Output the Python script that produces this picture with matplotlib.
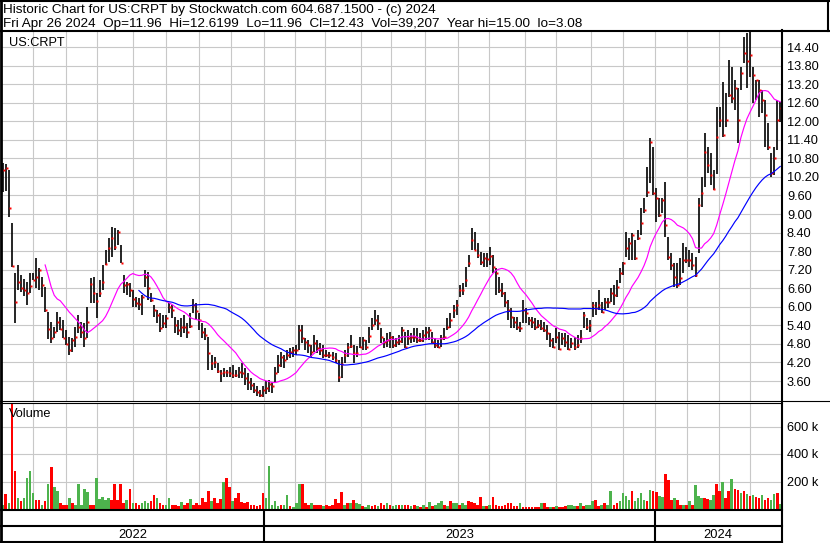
import numpy as np
import pandas as pd
import matplotlib
matplotlib.use("Agg")
import matplotlib.pyplot as plt

plt.rcParams['font.family'] = ['Liberation Sans', 'DejaVu Sans']

# ---------------- data (one bar = two trading days) -------------
highs = [10.65,10.62,10.42,8.71,7.09,7.35,7.03,6.90,6.80,7.09,
         7.10,7.58,7.25,6.96,6.64,5.83,5.51,5.35,5.83,5.67,
         5.57,5.25,5.02,4.99,5.35,5.74,5.51,5.48,6.00,6.93,
         6.96,6.45,6.87,7.35,7.84,8.22,8.58,8.55,8.48,8.00,
         7.03,6.80,6.77,6.54,6.32,6.28,6.38,7.19,7.12,6.45,
         6.06,5.90,5.80,5.74,5.74,6.12,6.06,5.67,5.57,5.64,
         5.74,5.48,5.80,6.25,6.12,5.80,5.48,5.31,5.02,4.44,
         4.38,4.18,3.96,4.02,3.96,4.05,4.12,3.96,4.05,4.18,
         4.02,3.86,3.70,3.54,3.44,3.31,3.44,3.60,3.63,3.57,
         4.05,4.44,4.54,4.44,4.60,4.67,4.70,4.77,5.41,5.41,
         4.99,4.93,4.77,5.09,4.93,4.83,4.77,4.60,4.54,4.54,
         4.51,4.28,4.38,4.60,4.83,5.09,4.77,4.73,5.02,5.02,
         4.93,5.35,5.64,5.90,5.74,5.31,4.99,5.15,5.18,5.06,
         4.99,5.09,5.35,5.18,5.25,5.15,5.31,5.31,5.15,5.25,
         5.35,5.35,5.18,4.99,4.93,5.09,5.31,5.64,5.80,6.06,
         6.22,6.70,6.77,7.29,7.67,8.55,8.42,8.06,7.77,7.74,
         7.74,7.93,7.68,7.26,6.96,6.77,6.48,6.22,5.96,5.67,
         5.67,5.51,6.22,5.96,5.67,5.67,5.64,5.57,5.57,5.51,
         5.41,5.15,4.99,5.31,5.18,5.15,5.15,5.09,4.99,5.02,
         5.09,5.25,5.83,5.64,5.57,6.16,6.16,6.54,6.16,6.28,
         6.28,6.61,6.70,6.87,7.26,7.45,8.42,8.22,8.39,8.16,
         8.48,9.19,9.52,10.52,11.46,11.17,9.84,9.52,9.52,10.04,
         8.26,7.74,7.42,7.42,7.58,8.06,7.93,7.84,7.74,7.61,
         9.52,10.20,11.62,11.17,10.97,10.42,12.46,12.46,13.27,12.91,
         13.98,13.75,13.33,13.07,13.75,14.72,14.85,14.95,13.75,13.33,
         13.33,13.01,12.69,11.94,10.97,11.17,12.69,12.62]
lows = [9.70,9.75,8.90,7.29,5.48,6.54,6.48,6.35,6.06,6.45,
        6.87,6.61,6.54,6.32,5.83,4.95,4.83,4.99,5.18,5.25,
        4.99,4.77,4.44,4.54,4.70,5.15,4.99,4.70,5.00,6.12,
        6.12,5.64,6.32,6.54,7.35,7.45,7.61,7.84,8.00,7.42,
        6.45,6.38,6.32,6.00,6.00,5.90,5.74,6.64,6.22,6.16,
        5.67,5.48,5.18,5.31,5.31,5.80,5.64,5.15,5.09,5.02,
        5.15,4.99,5.31,5.80,5.57,5.25,4.99,4.93,3.96,3.96,
        4.02,3.86,3.57,3.73,3.73,3.73,3.70,3.73,3.70,3.70,
        3.47,3.31,3.31,3.21,3.12,3.08,3.08,3.18,3.25,3.21,
        3.57,3.86,4.05,4.02,4.28,4.35,4.38,4.44,4.60,4.83,
        4.60,4.51,4.38,4.54,4.51,4.44,4.35,4.38,4.35,4.28,
        4.18,3.57,3.70,4.18,4.38,4.67,4.18,4.38,4.67,4.60,
        4.60,4.83,5.25,5.41,5.25,4.83,4.67,4.70,4.67,4.67,
        4.70,4.77,4.83,4.67,4.77,4.83,4.86,4.83,4.86,4.86,
        4.93,4.93,4.83,4.67,4.67,4.70,4.93,5.25,5.31,5.64,
        5.74,6.32,6.38,6.64,7.29,7.84,7.84,7.58,7.35,7.29,
        7.29,7.35,7.09,6.38,6.45,6.32,5.99,5.57,5.31,5.31,
        5.25,5.18,5.48,5.48,5.41,5.31,5.25,5.31,5.25,5.18,
        4.93,4.70,4.67,4.83,4.60,4.77,4.70,4.60,4.67,4.60,
        4.67,4.83,5.31,5.25,5.18,5.67,5.74,5.90,5.80,5.90,
        5.96,6.16,6.06,6.32,6.77,7.03,7.61,7.51,7.51,7.51,
        8.16,8.32,9.03,9.55,10.00,9.61,8.74,8.90,9.03,8.26,
        7.51,7.19,6.64,6.61,6.71,7.09,7.42,7.29,7.19,6.96,
        7.74,9.23,9.87,10.33,9.94,9.78,10.30,11.81,11.49,11.81,
        12.78,12.59,12.36,11.30,13.01,13.88,13.07,13.43,12.59,12.69,
        12.14,12.27,11.17,11.07,10.20,10.26,11.07,11.96]
closes = [10.42,10.50,9.20,7.32,6.16,6.80,6.60,6.54,6.45,6.67,
          6.87,6.96,7.20,6.70,5.90,5.28,4.99,5.18,5.51,5.28,
          4.99,4.80,4.60,4.93,5.02,5.35,5.18,4.99,5.50,6.74,
          6.45,6.19,6.45,6.80,7.38,7.90,8.22,7.93,8.42,7.42,
          6.70,6.74,6.55,6.25,6.12,6.09,6.32,6.96,6.61,6.22,
          5.90,5.74,5.31,5.48,5.64,5.99,5.90,5.41,5.25,5.35,
          5.35,5.18,5.38,6.06,5.86,5.57,5.18,5.09,4.51,4.18,
          4.22,3.92,3.86,3.89,3.89,3.86,3.80,3.80,3.89,3.86,
          3.70,3.57,3.47,3.31,3.25,3.15,3.31,3.38,3.50,3.44,
          3.86,4.12,4.38,4.28,4.44,4.54,4.60,4.60,5.25,4.99,
          4.86,4.77,4.54,4.83,4.67,4.60,4.44,4.44,4.44,4.38,
          4.28,3.73,4.15,4.44,4.70,4.73,4.51,4.51,4.70,4.93,
          4.70,5.06,5.41,5.57,5.48,5.02,4.86,4.93,5.02,4.77,
          4.86,4.89,5.25,4.70,4.99,5.02,5.02,4.93,4.93,5.09,
          5.18,5.25,4.86,4.77,4.70,4.99,5.02,5.35,5.57,5.90,
          6.06,6.54,6.54,6.87,7.42,8.16,7.84,7.68,7.45,7.58,
          7.55,7.64,7.29,7.09,6.54,6.45,6.16,5.90,5.67,5.51,
          5.35,5.31,5.90,5.80,5.57,5.51,5.35,5.41,5.31,5.25,
          5.15,4.93,4.70,5.02,4.64,4.99,4.86,4.64,4.83,4.70,
          4.77,4.99,5.74,5.35,5.41,6.06,5.96,6.06,5.83,6.16,
          6.16,6.45,6.38,6.64,7.09,7.42,7.90,8.06,8.32,7.58,
          8.22,8.71,9.13,9.71,11.33,9.68,9.52,8.97,9.45,8.65,
          7.61,7.35,6.96,6.71,6.93,7.51,7.51,7.51,7.35,7.03,
          9.30,9.68,11.01,10.59,10.26,9.81,11.49,12.04,11.55,12.04,
          12.85,12.75,13.07,12.04,13.56,14.21,13.95,14.14,13.49,13.33,
          13.01,12.69,12.20,11.17,10.33,10.81,12.04,12.43]
volumes_k = [31,108,44,808,275,82,56,82,223,280,
             120,69,69,31,56,185,308,159,133,44,
             31,31,82,44,31,185,31,146,126,31,
             31,228,74,90,69,82,69,185,64,185,
             44,69,146,44,44,31,44,56,44,56,
             100,82,44,31,31,82,31,31,23,49,
             31,44,74,31,44,31,82,49,133,56,
             82,44,74,197,223,159,56,82,115,49,
             44,49,31,31,23,31,120,82,313,31,
             56,23,31,31,100,23,18,44,185,185,
             44,31,44,31,31,31,23,31,23,31,
             74,44,126,31,44,44,69,44,39,23,
             18,31,23,31,23,44,31,44,31,23,
             31,31,31,31,31,23,31,23,18,31,
             18,49,23,31,44,56,31,23,56,44,
             44,31,44,31,56,49,44,31,90,23,
             23,31,90,31,23,23,31,44,44,23,
             23,44,18,13,13,13,13,13,44,44,
             18,18,18,23,18,18,23,31,31,23,
             23,44,23,31,31,56,69,23,31,44,
             31,133,31,44,56,120,95,69,133,56,
             82,120,69,56,138,133,126,95,90,254,
             210,69,82,69,31,31,31,56,31,177,
             95,82,82,74,69,100,185,133,197,82,
             133,218,146,141,115,133,108,95,100,90,
             82,100,69,82,69,108,120,39]
# volume direction as shown: g = up day, r = down day
vol_dir = ("grgrrgrggg" "grrgrgrggr" "rrgrgggggr" "rgggggrrrr" "rgrgrrgggr"
           "rgrrggrrrg" "rrgrrrrrrg" "rrrgrrgrrr" "rrrrrrrggg" "ggrggrgggr"
           "rrgrrrgrrr" "rrrgrgrggr" "ggrrgrrgrg" "grgrrgrgrg" "rgrgggrgrg"
           "grggrrrrrg" "rgrrrrrrrr" "rgrrrrrrgr" "rgrgrrrggg" "rgrgggrrgr"
           "ggrrggggrg" "gggrgrrggr" "rrgrrgrgrg" "ggrrggrrgr" "rgrrgrgrgr"
           "rgrrggrg")
exchange_holidays = ["2022-05-30", "2022-06-20", "2022-07-04", "2022-09-05", "2022-11-24",
                     "2022-12-26", "2023-01-02", "2023-01-16", "2023-02-20", "2023-04-07",
                     "2023-05-29", "2023-06-19", "2023-07-04", "2023-09-04", "2023-11-23",
                     "2023-12-25", "2024-01-01", "2024-01-15", "2024-02-19", "2024-03-29"]
last_date = "2024-04-26"
n_days = 499
price_ticks = [3.60, 4.20, 4.80, 5.40, 6.00, 6.60, 7.20, 7.80, 8.40, 9.00, 9.60,
               10.20, 10.80, 11.40, 12.00, 12.60, 13.20, 13.80, 14.40]
vol_ticks_k = [200, 400, 600]
header1 = "Historic Chart for US:CRPT by Stockwatch.com 604.687.1500 - (c) 2024"
header2 = ("Fri Apr 26 2024  Op=11.96  Hi=12.6199  Lo=11.96  Cl=12.43  "
           "Vol=39,207  Year hi=15.00  lo=3.08")
symbol = "US:CRPT"

# ---------------- layout -------------
W, H = 830, 543
fig = plt.figure(figsize=(W / 100, H / 100), dpi=100)
fig.patch.set_facecolor("white")


def px_axes(x0, y0, x1, y1):
    return fig.add_axes([x0 / W, 1 - y1 / H, (x1 - x0) / W, (y1 - y0) / H])


days = pd.bdate_range(end=last_date, periods=n_days, freq="C",
                      holidays=exchange_holidays)
n = len(closes)
bar_x = np.linspace(0, n_days - 1, n)
month_lines = [i - 0.5 for i in range(1, n_days) if days[i].month != days[i - 1].month]
year_lines = [i - 0.5 for i in range(1, n_days) if days[i].year != days[i - 1].year]
xlim = (-0.5, n_days - 0.5)

grid_c = "#c8c8c8"
tick_font = dict(fontsize=9.2)

# price panel
ax = px_axes(2, 31, 781, 401)
ax.set_xlim(*xlim)
ax.set_ylim(14.40 - (401 - 47) / 30.93, 14.40 + (47 - 31) / 30.93)
ax.set_axisbelow(True)
ax.set_xticks(month_lines)
ax.set_yticks(price_ticks)
ax.set_yticklabels([f"{t:.2f}" for t in price_ticks], **tick_font)
ax.yaxis.tick_right()
ax.tick_params(axis="y", length=0, pad=4.3)
ax.tick_params(axis="x", length=0, labelbottom=False)
ax.grid(True, color=grid_c, lw=0.8)
for s in ax.spines.values():
    s.set_visible(False)

ax.vlines(bar_x, lows, highs, color="black", lw=1.2, zorder=3)
ax.plot(bar_x + 0.5, closes, "s", color="red", ms=2.0, mec="none", zorder=4)
cs = pd.Series(closes)
ax.plot(bar_x, cs.rolling(15).mean(), color="#ff00ff", lw=0.85, zorder=5)
ax.plot(bar_x, cs.rolling(46).mean(), color="#0000ff", lw=0.85, zorder=5)

# volume panel
axv = px_axes(2, 403, 781, 509)
axv.set_xlim(*xlim)
axv.set_ylim(0, (509 - 403) / 27.5 * 200)
axv.set_axisbelow(True)
axv.set_xticks(month_lines)
axv.set_yticks(vol_ticks_k)
axv.set_yticklabels([f"{v} k" for v in vol_ticks_k], **tick_font)
axv.yaxis.tick_right()
axv.tick_params(axis="y", length=0, pad=4.3)
axv.tick_params(axis="x", length=0, labelbottom=False)
axv.grid(True, color=grid_c, lw=0.8)
for s in axv.spines.values():
    s.set_visible(False)
vcol = ["#4db34d" if c == "g" else "#ff0000" for c in vol_dir]
axv.bar(bar_x, volumes_k, width=1.7, color=vcol, lw=0, zorder=3)

# date band
axb = px_axes(2, 510, 781, 542)
axb.set_xlim(*xlim)
axb.set_ylim(0, 1)
axb.axis("off")
for yl in year_lines:
    axb.axvline(yl, color="black", lw=1.5)
bounds = [xlim[0]] + year_lines + [xlim[1]]
years = sorted(set(d.year for d in days))
for k, yr in enumerate(years):
    axb.text((bounds[k] + bounds[k + 1]) / 2, (542 - 534.5) / 32, str(yr),
             ha="center", va="center", fontsize=9.3)

# overlay in pixel coordinates for frame and texts
ov = fig.add_axes([0, 0, 1, 1])
ov.set_xlim(0, W)
ov.set_ylim(H, 0)
ov.axis("off")
ov.patch.set_alpha(0)
k2 = 1.5
ov.plot([0, 829], [1, 1], color="black", lw=k2)
ov.plot([1, 1], [0, H], color="black", lw=2.0)
ov.plot([828, 828], [0, 31], color="black", lw=k2)
ov.plot([0, W], [30.5, 30.5], color="black", lw=k2)
ov.plot([782, 782], [30, H], color="black", lw=k2)
ov.plot([0, W], [400.5, 400.5], color="black", lw=0.8)
ov.plot([0, 782], [402.5, 402.5], color="black", lw=0.8)
ov.plot([0, 782], [510, 510], color="black", lw=k2)
ov.plot([0, 782], [526, 526], color="black", lw=k2)
ov.plot([0, 782], [541.5, 541.5], color="black", lw=k2)

ov.text(3, 13.5, header1, fontsize=9.7, va="baseline", ha="left")
ov.text(3, 26.5, header2, fontsize=9.7, va="baseline", ha="left")
ov.text(9, 45.5, symbol, fontsize=9.2, va="baseline", ha="left")
ov.text(9, 417, "Volume", fontsize=9.2, va="baseline", ha="left")

fig.savefig("out.png", dpi=100)
